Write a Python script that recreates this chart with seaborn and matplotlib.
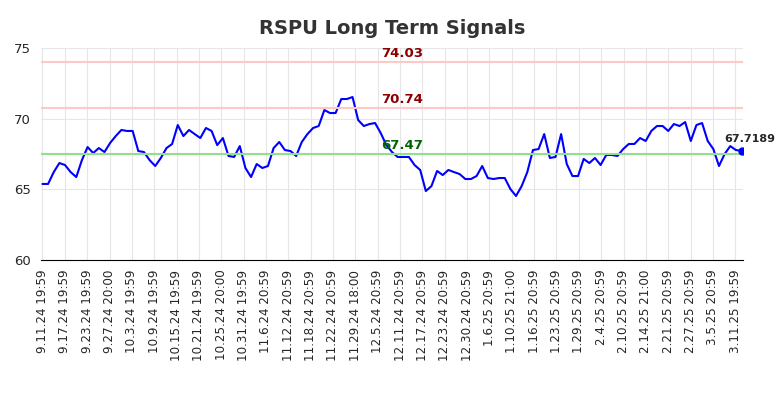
import numpy as np
import matplotlib
matplotlib.use("Agg")
import matplotlib.pyplot as plt
import seaborn as sns

values = [65.38,65.38,66.22,66.86,66.72,66.22,65.87,67.07,67.99,67.57,67.92,67.64,68.28,68.77,69.20,69.13,69.13,67.71,67.64,67.07,66.65,67.22,67.92,68.21,69.55,68.77,69.20,68.91,68.63,69.34,69.13,68.13,68.63,67.36,67.29,68.06,66.51,65.87,66.79,66.51,66.65,67.92,68.35,67.78,67.71,67.36,68.35,68.91,69.34,69.48,70.61,70.40,70.40,71.39,71.39,71.53,69.90,69.48,69.62,69.69,68.98,68.13,67.64,67.29,67.29,67.29,66.72,66.37,64.88,65.23,66.30,66.01,66.37,66.22,66.08,65.73,65.73,65.94,66.65,65.80,65.73,65.80,65.80,65.02,64.53,65.23,66.22,67.78,67.85,68.91,67.22,67.29,68.91,66.79,65.94,65.94,67.15,66.86,67.22,66.72,67.43,67.43,67.36,67.85,68.21,68.21,68.63,68.42,69.13,69.48,69.48,69.13,69.62,69.48,69.76,68.42,69.55,69.69,68.42,67.85,66.65,67.50,68.06,67.78,67.72]
tick_labels = ["9.11.24 19:59","9.17.24 19:59","9.23.24 19:59","9.27.24 20:00","10.3.24 19:59","10.9.24 19:59","10.15.24 19:59","10.21.24 19:59","10.25.24 20:00","10.31.24 19:59","11.6.24 20:59","11.12.24 20:59","11.18.24 20:59","11.22.24 20:59","11.29.24 18:00","12.5.24 20:59","12.11.24 20:59","12.17.24 20:59","12.23.24 20:59","12.30.24 20:59","1.6.25 20:59","1.10.25 21:00","1.16.25 20:59","1.23.25 20:59","1.29.25 20:59","2.4.25 20:59","2.10.25 20:59","2.14.25 21:00","2.21.25 20:59","2.27.25 20:59","3.5.25 20:59","3.11.25 19:59"]
upper, mid, lower = 74.03, 70.74, 67.47
last_label = "67.7189"

n = len(values)
x = np.arange(n)
sns.set_style("whitegrid", {"grid.color": "#e6e6e6"})
fig, ax = plt.subplots(figsize=(7.84, 4.0), dpi=100)
fig.subplots_adjust(left=0.052, right=0.948, top=0.88, bottom=0.35)
sns.lineplot(x=x, y=values, ax=ax, color="blue", linewidth=1.5)
ax.axhline(upper, color="#ffc8c8", lw=1.5)
ax.axhline(mid, color="#ffc8c8", lw=1.5)
ax.axhline(lower, color="#90e090", lw=1.5)
xm = (n - 1) * 0.515
ax.text(xm, upper + 0.15, f"{upper:.2f}", color="darkred", fontsize=9.5, fontweight="bold", ha="center", va="bottom")
ax.text(xm, mid + 0.15, f"{mid:.2f}", color="darkred", fontsize=9.5, fontweight="bold", ha="center", va="bottom")
ax.text(xm, lower + 0.15, f"{lower:.2f}", color="darkgreen", fontsize=9.5, fontweight="bold", ha="center", va="bottom")
ax.plot(x[-1], values[-1], "o", color="blue", ms=5)
ax.text(x[-1] - 3, values[-1] + 0.5, last_label, fontsize=8, fontweight="bold", ha="left", va="bottom")
ax.set_xlim(-0.3, n - 0.7)
ax.set_ylim(60, 75)
ax.set_yticks([60, 65, 70, 75])
ticks = np.linspace(0, (n - 1) * 0.991, len(tick_labels))
ax.set_xticks(ticks)
ax.set_xticklabels(tick_labels, rotation=90, fontsize=8.6)
ax.tick_params(axis="y", labelsize=9.5)
for s in ["top", "right", "left"]:
    ax.spines[s].set_visible(False)
ax.spines["bottom"].set_color("black")
ax.set_title("RSPU Long Term Signals", fontsize=14, fontweight="bold", color="#333333", pad=10)
fig.savefig("out.png")
